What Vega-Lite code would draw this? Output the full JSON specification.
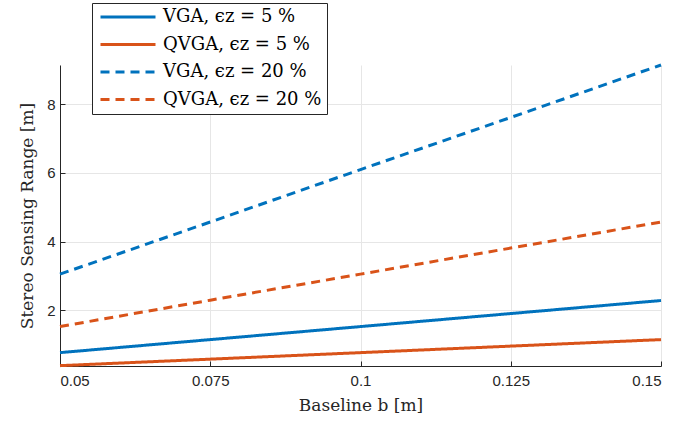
{
  "$schema": "https://vega.github.io/schema/vega-lite/v6.json",
  "width": 601,
  "height": 301,
  "autosize": {"type": "none"},
  "padding": {"left": 60, "top": 65, "right": 38, "bottom": 60},
  "background": "white",
  "data": {
    "values": [
      {"b": 0.05, "range": 0.76, "series": "VGA, ϵz = 5 %"},
      {"b": 0.075, "range": 1.14, "series": "VGA, ϵz = 5 %"},
      {"b": 0.1, "range": 1.52, "series": "VGA, ϵz = 5 %"},
      {"b": 0.125, "range": 1.9, "series": "VGA, ϵz = 5 %"},
      {"b": 0.15, "range": 2.28, "series": "VGA, ϵz = 5 %"},
      {"b": 0.05, "range": 0.38, "series": "QVGA, ϵz = 5 %"},
      {"b": 0.075, "range": 0.57, "series": "QVGA, ϵz = 5 %"},
      {"b": 0.1, "range": 0.76, "series": "QVGA, ϵz = 5 %"},
      {"b": 0.125, "range": 0.95, "series": "QVGA, ϵz = 5 %"},
      {"b": 0.15, "range": 1.14, "series": "QVGA, ϵz = 5 %"},
      {"b": 0.05, "range": 3.05, "series": "VGA, ϵz = 20 %"},
      {"b": 0.075, "range": 4.57, "series": "VGA, ϵz = 20 %"},
      {"b": 0.1, "range": 6.1, "series": "VGA, ϵz = 20 %"},
      {"b": 0.125, "range": 7.62, "series": "VGA, ϵz = 20 %"},
      {"b": 0.15, "range": 9.15, "series": "VGA, ϵz = 20 %"},
      {"b": 0.05, "range": 1.52, "series": "QVGA, ϵz = 20 %"},
      {"b": 0.075, "range": 2.29, "series": "QVGA, ϵz = 20 %"},
      {"b": 0.1, "range": 3.05, "series": "QVGA, ϵz = 20 %"},
      {"b": 0.125, "range": 3.81, "series": "QVGA, ϵz = 20 %"},
      {"b": 0.15, "range": 4.57, "series": "QVGA, ϵz = 20 %"}
    ]
  },
  "mark": {"type": "line", "strokeWidth": 3, "strokeCap": "butt"},
  "encoding": {
    "x": {
      "field": "b", "type": "quantitative",
      "scale": {"domain": [0.05, 0.15], "nice": false, "zero": false},
      "axis": {
        "values": [0.05, 0.075, 0.1, 0.125, 0.15],
        "labelExpr": "format(datum.value, '~g')",
        "title": "Baseline b [m]"
      }
    },
    "y": {
      "field": "range", "type": "quantitative",
      "scale": {"domain": [0.37, 9.15], "nice": false, "zero": false},
      "axis": {
        "values": [2, 4, 6, 8],
        "title": "Stereo Sensing Range [m]"
      }
    },
    "color": {
      "field": "series", "type": "nominal",
      "scale": {
        "domain": ["VGA, ϵz = 5 %", "QVGA, ϵz = 5 %", "VGA, ϵz = 20 %", "QVGA, ϵz = 20 %"],
        "range": ["#0072BD", "#D95319", "#0072BD", "#D95319"]
      },
      "legend": {
        "orient": "none",
        "legendX": 32,
        "legendY": -62,
        "title": null
      }
    },
    "strokeDash": {
      "field": "series", "type": "nominal",
      "scale": {
        "domain": ["VGA, ϵz = 5 %", "QVGA, ϵz = 5 %", "VGA, ϵz = 20 %", "QVGA, ϵz = 20 %"],
        "range": [[1, 0], [1, 0], [9, 6], [9, 6]]
      },
      "legend": {
        "orient": "none",
        "legendX": 32,
        "legendY": -62,
        "title": null
      }
    }
  },
  "config": {
    "view": {"stroke": null},
    "axis": {
      "labelFont": "Liberation Sans",
      "labelFontSize": 15,
      "labelColor": "#262626",
      "titleFont": "DejaVu Serif",
      "titleFontSize": 17,
      "titleFontWeight": "normal",
      "titleColor": "#262626",
      "domainColor": "#262626",
      "domainWidth": 1,
      "tickColor": "#262626",
      "tickSize": -5,
      "gridColor": "#e6e6e6",
      "gridWidth": 1
    },
    "axisX": {"labelPadding": 12, "titlePadding": 9},
    "axisY": {"labelPadding": 10, "titlePadding": 10},
    "legend": {
      "labelFont": "DejaVu Serif",
      "labelFontSize": 18,
      "labelColor": "#000",
      "labelLimit": 400,
      "symbolType": "M-1,0H9",
      "symbolStrokeWidth": 3,
      "symbolSize": 121,
      "rowPadding": 9.5,
      "padding": 5,
      "strokeColor": "#262626",
      "fillColor": "white",
      "cornerRadius": 0,
      "labelOffset": 48
    }
  }
}
